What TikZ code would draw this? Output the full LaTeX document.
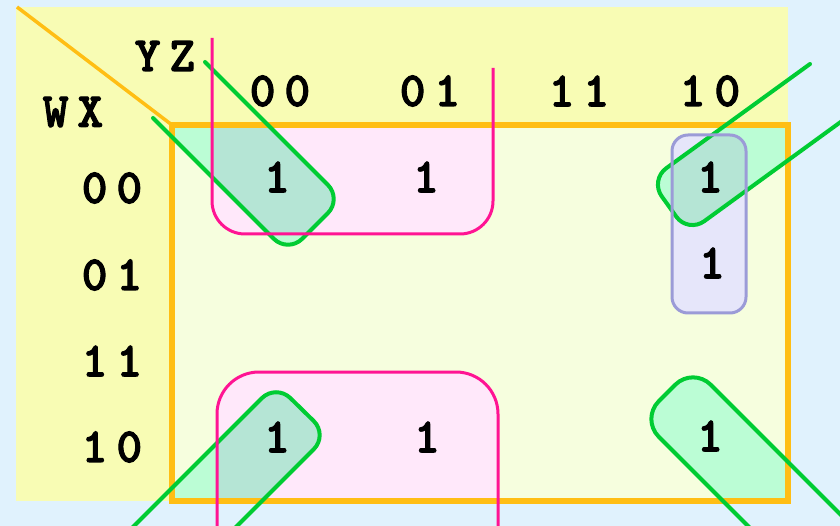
\documentclass[tikz,border=0pt]{standalone}
\usepackage{fontspec}
\newfontfamily\kmapfont{lmmonolt10-bold.otf}[FakeBold=2.2]

\definecolor{skyblue}{HTML}{E0F2FD}
\definecolor{headyellow}{HTML}{F8FCB4}
\definecolor{cellfill}{HTML}{F6FEDE}
\definecolor{frameorange}{HTML}{FFBE14}
\definecolor{pinkline}{HTML}{FF1493}
\definecolor{pinkfill}{HTML}{FFE8FA}
\definecolor{greenline}{HTML}{00CC33}
\definecolor{mintfill}{HTML}{BBFDD5}
\definecolor{mixfill}{HTML}{B5E5D5}
\definecolor{lilacline}{HTML}{9B9BD7}
\definecolor{lilacfill}{HTML}{E6E6FA}

\newcommand{\dd}[2]{#1\kern9pt#2}

\begin{document}
\begin{tikzpicture}[x=1pt,y=-1pt,
        lbl/.style={font=\kmapfont\fontsize{49}{49}\selectfont,inner sep=0pt},
        gline/.style={draw=greenline,line width=4pt,line cap=round,rounded corners=20pt},
        pline/.style={draw=pinkline,line width=3pt},
        lline/.style={draw=lilacline,line width=3pt,rounded corners=16pt}]
  \useasboundingbox (0,0) rectangle (840,526);
  \fill[skyblue] (0,0) rectangle (840,526);
  \fill[headyellow] (16,7) rectangle (788,501);
  \coordinate (nw) at (172,125);
  \coordinate (se) at (788,501);
  \fill[cellfill] (nw) rectangle (se);
  % group outlines
  \coordinate (tl1) at (205,62);  \coordinate (tl2) at (342,199);
  \coordinate (tl3) at (288,253); \coordinate (tl4) at (153,118);
  \coordinate (tr1) at (810,64);  \coordinate (tr2) at (650,180);
  \coordinate (tr3) at (688,233); \coordinate (tr4) at (842,121);
  \coordinate (bl1) at (125,535); \coordinate (bl2) at (276,384);
  \coordinate (bl3) at (328,435); \coordinate (bl4) at (228,535);
  \coordinate (br1) at (871,545); \coordinate (br2) at (693,367);
  \coordinate (br3) at (641,419); \coordinate (br4) at (767,545);
  \coordinate (pt1) at (212,38);  \coordinate (pt2) at (212,234);
  \coordinate (pt3) at (493,234); \coordinate (pt4) at (493,68);
  \coordinate (pb1) at (217,545); \coordinate (pb2) at (217,372);
  \coordinate (pb3) at (498,372); \coordinate (pb4) at (498,545);
  \coordinate (lv1) at (672,135); \coordinate (lv2) at (746,313);
  % fills, only inside the map
  \begin{scope}
    \clip (nw) rectangle (se);
    \fill[pinkfill,rounded corners=33pt] (pt1) -- (pt2) -- (pt3) -- (pt4) -- cycle;
    \fill[pinkfill,rounded corners=42pt] (pb1) -- (pb2) -- (pb3) -- (pb4) -- cycle;
    \fill[lilacfill,rounded corners=16pt] (lv1) rectangle (lv2);
    \fill[mintfill,rounded corners=20pt] (tl1) -- (tl2) -- (tl3) -- (tl4) -- cycle;
    \fill[mintfill,rounded corners=20pt] (tr1) -- (tr2) -- (tr3) -- (tr4) -- cycle;
    \fill[mintfill,rounded corners=20pt] (bl1) -- (bl2) -- (bl3) -- (bl4) -- cycle;
    \fill[mintfill,rounded corners=25pt] (br1) -- (br2) -- (br3) -- (br4) -- cycle;
    \begin{scope}
      \clip[rounded corners=33pt] (pt1) -- (pt2) -- (pt3) -- (pt4) -- cycle;
      \fill[mixfill,rounded corners=20pt] (tl1) -- (tl2) -- (tl3) -- (tl4) -- cycle;
    \end{scope}
    \begin{scope}
      \clip[rounded corners=42pt] (pb1) -- (pb2) -- (pb3) -- (pb4) -- cycle;
      \fill[mixfill,rounded corners=20pt] (bl1) -- (bl2) -- (bl3) -- (bl4) -- cycle;
    \end{scope}
    \begin{scope}
      \clip[rounded corners=16pt] (lv1) rectangle (lv2);
      \fill[mixfill,rounded corners=20pt] (tr1) -- (tr2) -- (tr3) -- (tr4) -- cycle;
    \end{scope}
  \end{scope}
  \draw[frameorange,line width=3.5pt] (17,7) -- (nw);
  \draw[frameorange,line width=5.5pt] (nw) rectangle (se);
  % loops
  \draw[gline] (tl1) -- (tl2) -- (tl3) -- (tl4);
  \draw[gline] (tr1) -- (tr2) -- (tr3) -- (tr4);
  \draw[gline] (bl1) -- (bl2) -- (bl3) -- (bl4);
  \draw[gline,rounded corners=25pt] (br1) -- (br2) -- (br3) -- (br4);
  \draw[pline,rounded corners=33pt] (pt1) -- (pt2) -- (pt3) -- (pt4);
  \draw[pline,rounded corners=42pt] (pb1) -- (pb2) -- (pb3) -- (pb4);
  \draw[lline] (lv1) rectangle (lv2);
  % labels
  \node[lbl] (yz) at (165,56) {\dd YZ};
  \node[lbl] (wx) at (73,112) {\dd WX};
  \node[lbl] (c00) at (280,91) {\dd00};
  \node[lbl] (c01) at (430,91) {\dd01};
  \node[lbl] (c11) at (579,91) {\dd11};
  \node[lbl] (c10) at (710,91) {\dd10};
  \node[lbl] (r00) at (112,188) {\dd00};
  \node[lbl] (r01) at (112,275) {\dd01};
  \node[lbl] (r11) at (112,361) {\dd11};
  \node[lbl] (r10) at (112,447) {\dd10};
  % cells
  \node[lbl] (m0000) at (277,177) {1};
  \node[lbl] (m0001) at (426,177) {1};
  \node[lbl] (m0010) at (710,177) {1};
  \node[lbl] (m0110) at (712,263) {1};
  \node[lbl] (m1000) at (277,437) {1};
  \node[lbl] (m1001) at (427,437) {1};
  \node[lbl] (m1010) at (710,436) {1};
\end{tikzpicture}
\end{document}
